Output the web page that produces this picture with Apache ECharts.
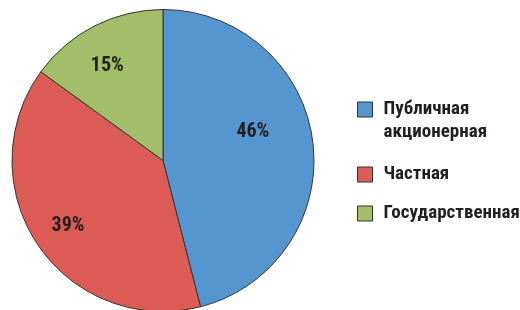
<!DOCTYPE html>
<html><head><meta charset="utf-8">
<style>html,body{margin:0;padding:0;background:#fff}#c{width:520px;height:310px}</style>
<script src="https://cdn.jsdelivr.net/npm/echarts@6/dist/echarts.min.js"></script>
</head><body><div id="c"></div>
<script>
const categories = ['Публичная\nакционерная', 'Частная', 'Государственная'];
const values = [46, 39, 15];
const colors = ['#5596D0', '#DC5C55', '#A3BE69'];
const labelOffsets = [[12, -19], [-30, 21], [-20, -25]];
const legendTops = [75, 163, 202];
const FONT = '"Roboto Condensed", "Liberation Sans Narrow", sans-serif';

const chart = echarts.init(document.getElementById('c'));
const legends = categories.map((name, i) => ({
  orient: 'vertical', left: 357, top: legendTops[i], padding: 0,
  itemWidth: 15, itemHeight: 15, itemGap: 10,
  icon: 'rect', selectedMode: false,
  itemStyle: { borderColor: '#333', borderWidth: 1 },
  formatter: n => (n.indexOf('\n') >= 0 ? '\n' + n : n),
  textStyle: {
    fontFamily: FONT, fontWeight: 'bold', fontSize: 19, color: '#231F20',
    lineHeight: 23, padding: [0, 0, 0, 6]
  },
  data: [name]
}));
chart.setOption({
  animation: false,
  legend: legends,
  series: [{
    type: 'pie', center: [163, 160.5], radius: [0, 151],
    startAngle: 90, clockwise: true,
    itemStyle: { borderColor: '#333', borderWidth: 1 },
    label: {
      position: 'inside', formatter: '{c}%',
      fontFamily: FONT, fontWeight: 'bold', fontSize: 20, color: '#231F20'
    },
    labelLine: { show: false },
    emphasis: { disabled: true },
    data: categories.map((n, i) => ({
      name: n, value: values[i], itemStyle: { color: colors[i] },
      label: { offset: labelOffsets[i] }
    }))
  }]
});
</script></body></html>
